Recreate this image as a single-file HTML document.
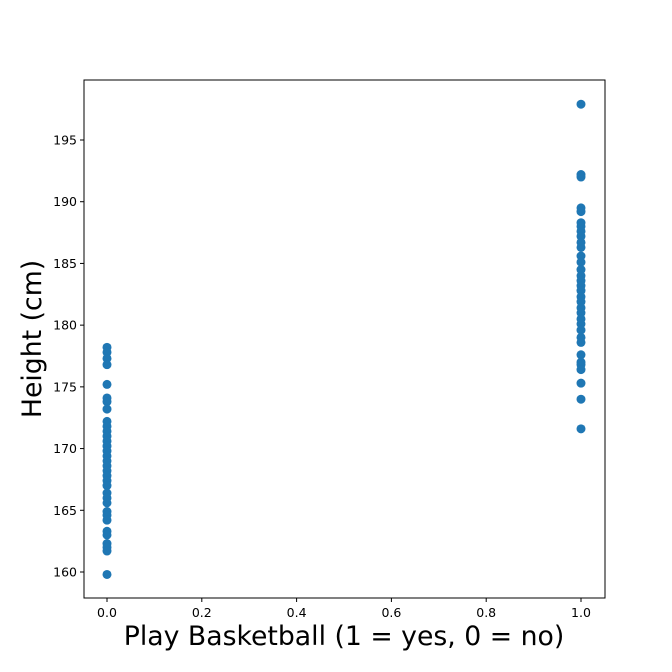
<!DOCTYPE html>
<html><head><meta charset="utf-8"><style>body{margin:0;background:#fff}svg{display:block;font-family:"DejaVu Sans","Liberation Sans",sans-serif}</style></head>
<body>
<svg id="chart" width="672" height="672"></svg>
<script>
const group0 = [178.2,177.8,177.3,176.8,175.2,174.1,173.8,173.2,172.2,171.8,171.4,171.0,170.6,170.2,169.8,169.4,169.0,168.6,168.2,167.8,167.4,167.0,166.4,166.0,165.6,164.9,164.6,164.2,163.3,163.0,162.3,162.0,161.7,159.8];
const group1 = [197.9,192.2,192.0,189.5,189.2,188.3,188.0,187.6,187.2,186.7,186.3,185.6,185.1,184.5,184.0,183.6,183.2,182.8,182.3,181.9,181.4,181.0,180.5,180.1,179.6,179.0,178.6,177.6,177.0,176.8,176.4,175.3,174.0,171.6];
const xTicks = [0.0,0.2,0.4,0.6,0.8,1.0];
const yTicks = [160,165,170,175,180,185,190,195];
const NS="http://www.w3.org/2000/svg", svg=document.getElementById('chart');
const L=84,R=605,T=80,B=598;
const xs=v=>107+v*(581-107);
const ys=v=>572-(v-160)*(572-140)/35;
function mk(t,a,p){const e=document.createElementNS(NS,t);for(const k in a)e.setAttribute(k,a[k]);(p||svg).appendChild(e);return e;}
const frame=mk('rect',{x:L,y:T,width:R-L,height:B-T,fill:'none',stroke:'#000','stroke-width':1});


xTicks.forEach(v=>{const x=xs(v);
 const l=mk('line',{x1:x,x2:x,y1:B,y2:B+4,stroke:'#000'});
 
 
 const t=mk('text',{x:x,y:B+19,'text-anchor':'middle','font-size':12.5});t.textContent=v.toFixed(1);
 
 });
yTicks.forEach(v=>{const y=ys(v);
 const l=mk('line',{x1:L-4,x2:L,y1:y,y2:y,stroke:'#000'});
 
 
 const t=mk('text',{x:L-7,y:y+4.5,'text-anchor':'end','font-size':12.5});t.textContent=v;
 
 });
[[0,group0],[1,group1]].forEach(([g,arr])=>arr.forEach(v=>{
 const c=mk('circle',{cx:xs(g),cy:ys(v),r:4.5,fill:'#1f77b4'});
 
 }));
const xt=mk('text',{x:344,y:645,'text-anchor':'middle','font-size':26.7});xt.textContent='Play Basketball (1 = yes, 0 = no)';


const yt=mk('text',{x:0,y:0,'text-anchor':'middle','font-size':26.7,transform:'translate(41,339) rotate(-90)'});yt.textContent='Height (cm)';


</script>
</body></html>
